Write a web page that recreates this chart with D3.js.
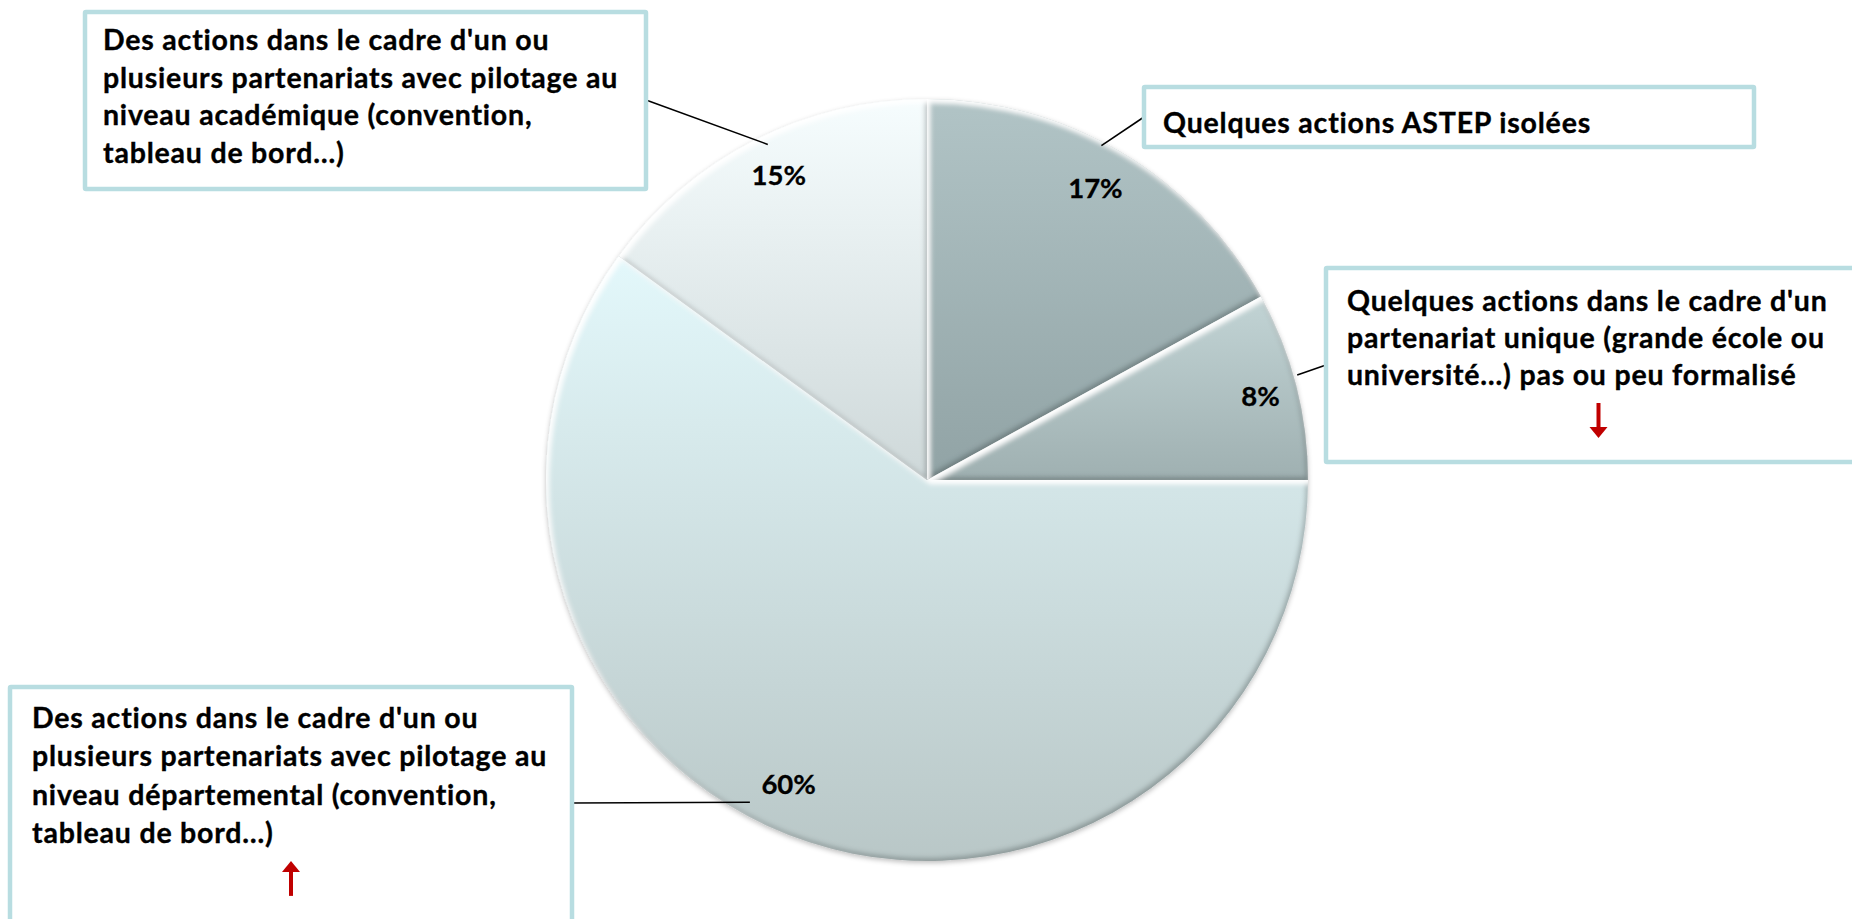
<!DOCTYPE html>
<html>
<head>
<meta charset="utf-8">
<script src="https://cdn.jsdelivr.net/npm/d3@7"></script>
<style>
  html, body { margin: 0; padding: 0; background: #ffffff; }
  svg { display: block; }
  text { font-family: Lato, "Open Sans", sans-serif; font-weight: 700; fill: #000; }
  .lbl { stroke: #000; stroke-width: 0.35px; letter-spacing: 0.8px; }
  .pct { stroke: #000; stroke-width: 0.3px; }
</style>
</head>
<body>
<svg id="chart" width="1852" height="919"></svg>
<script>
// ---------------- DATA ----------------
const categories = [
  "Quelques actions ASTEP isolées",
  "Quelques actions dans le cadre d'un partenariat unique (grande école ou université…) pas ou peu formalisé",
  "Des actions dans le cadre d'un ou plusieurs partenariats avec pilotage au niveau départemental (convention, tableau de bord…)",
  "Des actions dans le cadre d'un ou plusieurs partenariats avec pilotage au niveau académique (convention, tableau de bord…)"
];
const values = [17, 8, 60, 15];
const trends = [null, "down", "up", null];
// label text as wrapped in the reference
const labelLines = [
  ["Quelques actions ASTEP isolées"],
  ["Quelques actions dans le cadre d'un", "partenariat unique (grande école ou", "université…) pas ou peu formalisé"],
  ["Des actions dans le cadre d'un ou", "plusieurs partenariats avec pilotage au", "niveau départemental (convention,", "tableau de bord…)"],
  ["Des actions dans le cadre d'un ou", "plusieurs partenariats avec pilotage au", "niveau académique (convention,", "tableau de bord…)"]
];
const sliceColors = [
  ["#b1c4c6", "#91a3a5"],
  ["#c2d4d5", "#9fb0b1"],
  ["#e3f8fb", "#b9c7c7"],
  ["#f6fdfe", "#ced8d9"]
];

// ---------------- LAYOUT ----------------
const W = 1852, H = 919;
const cx = 927, cy = 480, R = 381;
const fontSize = 28.5;
// percentage label placement (fraction of slice angle, radius)
const pctFrac = [0.49, 0.51, 0.53, 0.52];
const pctRad = [337, 344, 334, 339];
const boxes = [
  { x: 1144, y: 87,  w: 610, h: 60,  tx: 19, ty: 46, lh: 37.5, anchor: "left",  ay: 30 },
  { x: 1326, y: 268, w: 545, h: 194, tx: 21, ty: 43, lh: 37,   anchor: "left",  ay: 97 },
  { x: 10,   y: 687, w: 562, h: 260, tx: 22, ty: 41, lh: 38.3, anchor: "right", ay: 116 },
  { x: 85,   y: 12,  w: 561, h: 177, tx: 18, ty: 38, lh: 37.5, anchor: "right", ay: 88 }
];
// where, within each slice (fraction of its angle), the leader touches it, and at what radius fraction
const leaderFrac = [0.45, 0.45, 0.55, 0.53];
const leaderRad = [0.99, 1.01, 0.965, 0.975];

const svg = d3.select("#chart");
const defs = svg.append("defs");

// gradients
sliceColors.forEach((c, i) => {
  const g = defs.append("linearGradient").attr("id", "grad" + i)
    .attr("x1", 0).attr("y1", 0).attr("x2", 0).attr("y2", 1);
  g.append("stop").attr("offset", "0%").attr("stop-color", c[0]);
  g.append("stop").attr("offset", "100%").attr("stop-color", c[1]);
});

// bevel filter
const f = defs.append("filter").attr("id", "bevel")
  .attr("x", "-10%").attr("y", "-10%").attr("width", "120%").attr("height", "120%");
f.append("feGaussianBlur").attr("in", "SourceAlpha").attr("stdDeviation", 2.6).attr("result", "blur");
f.append("feOffset").attr("in", "blur").attr("dx", 3).attr("dy", 4).attr("result", "offDown");
f.append("feComposite").attr("in", "SourceAlpha").attr("in2", "offDown").attr("operator", "out").attr("result", "hiEdge");
f.append("feFlood").attr("flood-color", "#ffffff").attr("flood-opacity", 1).attr("result", "hiCol");
f.append("feComposite").attr("in", "hiCol").attr("in2", "hiEdge").attr("operator", "in").attr("result", "hi");
f.append("feOffset").attr("in", "blur").attr("dx", -2.5).attr("dy", -3).attr("result", "offUp");
f.append("feComposite").attr("in", "SourceAlpha").attr("in2", "offUp").attr("operator", "out").attr("result", "shEdge");
f.append("feFlood").attr("flood-color", "#2f3d3e").attr("flood-opacity", 0.5).attr("result", "shCol");
f.append("feComposite").attr("in", "shCol").attr("in2", "shEdge").attr("operator", "in").attr("result", "sh");
const fm = f.append("feMerge");
fm.append("feMergeNode").attr("in", "SourceGraphic");
fm.append("feMergeNode").attr("in", "sh");
fm.append("feMergeNode").attr("in", "hi");

// drop shadow
const ds = defs.append("filter").attr("id", "shadow")
  .attr("x", "-10%").attr("y", "-10%").attr("width", "120%").attr("height", "120%");
ds.append("feGaussianBlur").attr("in", "SourceAlpha").attr("stdDeviation", 2.5).attr("result", "b");
ds.append("feOffset").attr("in", "b").attr("dx", 0).attr("dy", 2).attr("result", "o");
ds.append("feFlood").attr("flood-color", "#000").attr("flood-opacity", 0.25).attr("result", "c");
ds.append("feComposite").attr("in", "c").attr("in2", "o").attr("operator", "in").attr("result", "s");
const dm = ds.append("feMerge");
dm.append("feMergeNode").attr("in", "s");
dm.append("feMergeNode").attr("in", "SourceGraphic");

// ---------------- PIE ----------------
const pie = d3.pie().sort(null).value(d => d)(values);
const arc = d3.arc().innerRadius(0).outerRadius(R);

const pieG = svg.append("g").attr("transform", `translate(${cx},${cy})`).attr("filter", "url(#shadow)");
pieG.selectAll("path.slice").data(pie).join("path")
  .attr("class", "slice")
  .attr("d", arc)
  .attr("fill", (d, i) => `url(#grad${i})`)
  .attr("filter", "url(#bevel)");

// ---------------- LEADERS & BOXES ----------------
const leaderG = svg.append("g");
pie.forEach((d, i) => {
  const a = d.startAngle + (d.endAngle - d.startAngle) * leaderFrac[i];
  const r = R * leaderRad[i];
  const px = cx + r * Math.sin(a), py = cy - r * Math.cos(a);
  const b = boxes[i];
  const bx = b.anchor === "left" ? b.x : b.x + b.w;
  const by = b.y + b.ay;
  leaderG.append("line")
    .attr("x1", bx).attr("y1", by).attr("x2", px).attr("y2", py)
    .attr("stroke", "#000").attr("stroke-width", 1.6);
});

const boxG = svg.append("g");
boxes.forEach((b, i) => {
  const g = boxG.append("g");
  g.append("rect")
    .attr("x", b.x).attr("y", b.y).attr("width", b.w).attr("height", b.h)
    .attr("fill", "#ffffff").attr("stroke", "#b8dde1").attr("stroke-width", 4.5)
    .attr("rx", 1);
  const t = g.append("text")
    .attr("class", "lbl")
    .attr("x", b.x + b.tx).attr("y", b.y + b.ty)
    .attr("font-size", fontSize);
  labelLines[i].forEach((ln, k) => {
    t.append("tspan").attr("x", b.x + b.tx).attr("y", b.y + b.ty + k * b.lh).text(ln);
  });
  if (trends[i]) {
    const ax = b.x + b.w / 2;
    const top = b.y + b.ty + (labelLines[i].length - 1) * b.lh + 18;
    const len = 35;
    const up = trends[i] === "up";
    const head = 11, hw = 9;
    const tipY = up ? top : top + len;
    const tailY = up ? top + len : top;
    g.append("line")
      .attr("x1", ax).attr("x2", ax)
      .attr("y1", tailY).attr("y2", up ? tipY + head - 1 : tipY - head + 1)
      .attr("stroke", "#c00000").attr("stroke-width", 4);
    const hy = up ? tipY + head : tipY - head;
    g.append("path")
      .attr("d", `M${ax - hw},${hy} L${ax},${tipY} L${ax + hw},${hy} Z`)
      .attr("fill", "#c00000");
  }
});

// percentage labels
svg.append("g").selectAll("text.pct").data(pie).join("text")
  .attr("class", "pct")
  .attr("transform", (d, i) => {
    const a = d.startAngle + (d.endAngle - d.startAngle) * pctFrac[i];
    const x = cx + pctRad[i] * Math.sin(a), y = cy - pctRad[i] * Math.cos(a);
    return `translate(${x},${y})`;
  })
  .attr("text-anchor", "middle")
  .attr("dy", "0.36em")
  .attr("font-size", 27.5)
  .text(d => d.data + "%");
</script>
</body>
</html>
